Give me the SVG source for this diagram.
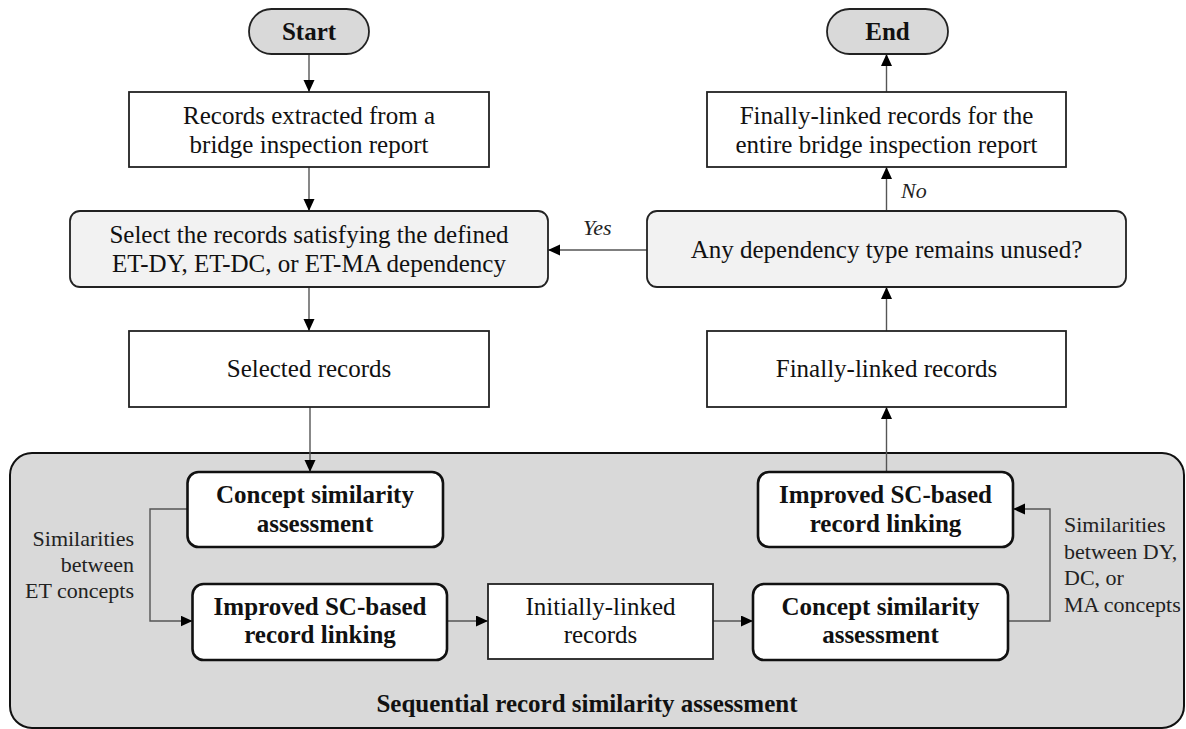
<svg xmlns="http://www.w3.org/2000/svg" width="1186" height="729" viewBox="0 0 1186 729">
  <style>
    .t { font-size: 25px; text-anchor: middle; fill: #111; }
    .b { font-size: 25px; text-anchor: middle; font-weight: bold; fill: #111; }
    .lbl { font-size: 22px; fill: #222; }
    .yn { font-size: 22px; font-style: italic; fill: #222; }
    .box { fill: #fff; stroke: #222; stroke-width: 1.8; }
    .dec { fill: #f2f2f2; stroke: #222; stroke-width: 1.8; }
    .term { fill: #d9d9d9; stroke: #222; stroke-width: 1.8; }
    .sub { fill: #fff; stroke: #111; stroke-width: 2.6; }
    .wire { fill: none; stroke: #555; stroke-width: 1.4; }
  </style>
  <defs>
    <marker id="arr" markerUnits="userSpaceOnUse" markerWidth="13" markerHeight="12" refX="12" refY="5.5" orient="auto">
      <path d="M0,0 L12,5.5 L0,11 z" fill="#000"/>
    </marker>
  </defs>

  <g font-family="Liberation Serif, serif">
  <!-- container for the sequential assessment -->
  <g id="sequential-assessment">
    <rect x="10" y="453" width="1174" height="275" rx="22" ry="22" fill="#d9d9d9" stroke="#111" stroke-width="2"/>
    <text class="b" x="587" y="712">Sequential record similarity assessment</text>
  </g>

  <!-- connectors -->
  <g id="connectors">
    <line class="wire" x1="309" y1="54" x2="309" y2="92" marker-end="url(#arr)"/>
    <line class="wire" x1="309" y1="167" x2="309" y2="211" marker-end="url(#arr)"/>
    <line class="wire" x1="309" y1="287" x2="309" y2="331" marker-end="url(#arr)"/>
    <line class="wire" x1="310" y1="407" x2="310" y2="472" marker-end="url(#arr)"/>
    <polyline class="wire" points="187.5,509 150,509 150,621 192.5,621" marker-end="url(#arr)"/>
    <line class="wire" x1="447" y1="621" x2="488" y2="621" marker-end="url(#arr)"/>
    <line class="wire" x1="713" y1="621" x2="753" y2="621" marker-end="url(#arr)"/>
    <polyline class="wire" points="1008,621 1050,621 1050,509 1013,509" marker-end="url(#arr)"/>
    <line class="wire" x1="886.5" y1="472" x2="886.5" y2="407" marker-end="url(#arr)"/>
    <line class="wire" x1="886.5" y1="331" x2="886.5" y2="287" marker-end="url(#arr)"/>
    <line class="wire" x1="647" y1="250" x2="548" y2="250" marker-end="url(#arr)"/>
    <line class="wire" x1="886.5" y1="211" x2="886.5" y2="167" marker-end="url(#arr)"/>
    <line class="wire" x1="886.5" y1="92" x2="886.5" y2="54" marker-end="url(#arr)"/>
    <text class="yn" x="583" y="235">Yes</text>
    <text class="yn" x="901" y="198">No</text>
    <text class="lbl" x="134" y="546" text-anchor="end">Similarities</text>
    <text class="lbl" x="134" y="572" text-anchor="end">between</text>
    <text class="lbl" x="134" y="598" text-anchor="end">ET concepts</text>
    <text class="lbl" x="1064" y="532">Similarities</text>
    <text class="lbl" x="1064" y="558.5">between DY,</text>
    <text class="lbl" x="1064" y="585">DC, or</text>
    <text class="lbl" x="1064" y="611.5">MA concepts</text>
  </g>

  <!-- left column -->
  <g id="start">
    <rect class="term" x="249" y="9" width="120" height="45" rx="22.5" ry="22.5"/>
    <text class="b" x="309" y="40">Start</text>
  </g>
  <g id="records-extracted">
    <rect class="box" x="129" y="92" width="360" height="75"/>
    <text class="t" x="309" y="124">Records extracted from a</text>
    <text class="t" x="309" y="153">bridge inspection report</text>
  </g>
  <g id="select-records">
    <rect class="dec" x="70" y="211" width="478" height="76" rx="10" ry="10"/>
    <text class="t" x="309" y="243">Select the records satisfying the defined</text>
    <text class="t" x="309" y="272">ET-DY, ET-DC, or ET-MA dependency</text>
  </g>
  <g id="selected-records">
    <rect class="box" x="129" y="331" width="360" height="76"/>
    <text class="t" x="309" y="377">Selected records</text>
  </g>

  <!-- right column -->
  <g id="end">
    <rect class="term" x="827" y="9" width="121" height="45" rx="22.5" ry="22.5"/>
    <text class="b" x="887.5" y="40">End</text>
  </g>
  <g id="final-report-records">
    <rect class="box" x="707" y="92" width="359" height="75"/>
    <text class="t" x="886.5" y="124">Finally-linked records for the</text>
    <text class="t" x="886.5" y="153">entire bridge inspection report</text>
  </g>
  <g id="dependency-check">
    <rect class="dec" x="647" y="211" width="479" height="76" rx="10" ry="10"/>
    <text class="t" x="886.5" y="258">Any dependency type remains unused?</text>
  </g>
  <g id="finally-linked">
    <rect class="box" x="707" y="331" width="359" height="76"/>
    <text class="t" x="886.5" y="377">Finally-linked records</text>
  </g>

  <!-- inner steps -->
  <g id="concept-sim-et">
    <rect class="sub" x="187.5" y="472" width="255.5" height="75" rx="11" ry="11"/>
    <text class="b" x="315" y="503">Concept similarity</text>
    <text class="b" x="315" y="532">assessment</text>
  </g>
  <g id="sc-linking-initial">
    <rect class="sub" x="192.5" y="584" width="254.5" height="76" rx="11" ry="11"/>
    <text class="b" x="320" y="615">Improved SC-based</text>
    <text class="b" x="320" y="643">record linking</text>
  </g>
  <g id="initially-linked">
    <rect class="box" x="488" y="584" width="225" height="75"/>
    <text class="t" x="600.5" y="615">Initially-linked</text>
    <text class="t" x="600.5" y="643">records</text>
  </g>
  <g id="concept-sim-other">
    <rect class="sub" x="753" y="584" width="255" height="76" rx="11" ry="11"/>
    <text class="b" x="880.5" y="615">Concept similarity</text>
    <text class="b" x="880.5" y="643">assessment</text>
  </g>
  <g id="sc-linking-final">
    <rect class="sub" x="758" y="472" width="255" height="75" rx="11" ry="11"/>
    <text class="b" x="885.5" y="503">Improved SC-based</text>
    <text class="b" x="885.5" y="532">record linking</text>
  </g>
  </g>
</svg>
